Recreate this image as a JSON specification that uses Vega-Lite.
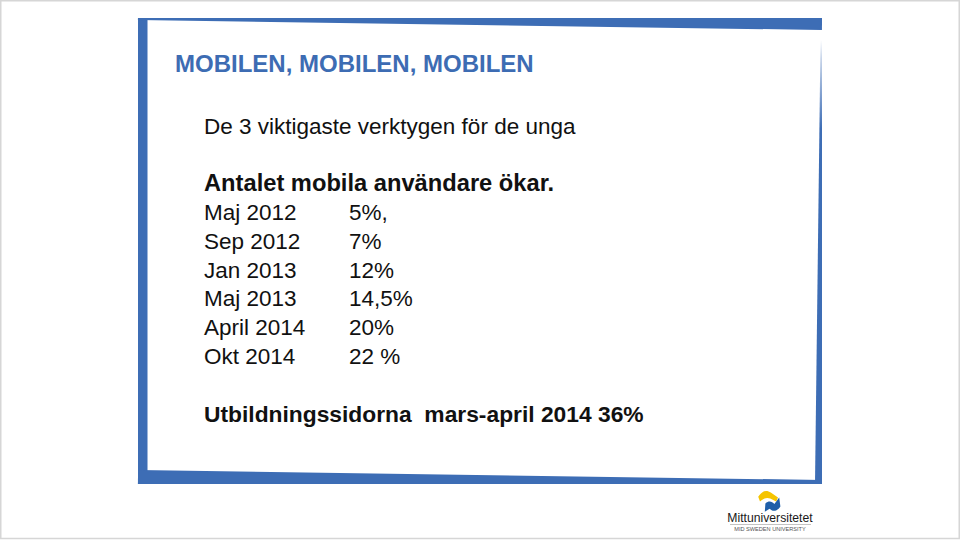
{
  "$schema": "https://vega.github.io/schema/vega-lite/v6.json",
  "width": 960,
  "height": 540,
  "padding": 0,
  "autosize": {"type": "fit", "contains": "padding"},
  "background": "#ffffff",
  "config": {"view": {"stroke": null}},
  "datasets": {
    "lines": [
      {"line": 0, "col": 0, "text": "De 3 viktigaste verktygen för de unga", "weight": "normal"},
      {"line": 2, "col": 0, "text": "Antalet mobila användare ökar.", "weight": "bold"},
      {"line": 3, "col": 0, "text": "Maj 2012", "weight": "normal"},
      {"line": 3, "col": 1, "text": "5%,", "weight": "normal"},
      {"line": 4, "col": 0, "text": "Sep 2012", "weight": "normal"},
      {"line": 4, "col": 1, "text": "7%", "weight": "normal"},
      {"line": 5, "col": 0, "text": "Jan 2013", "weight": "normal"},
      {"line": 5, "col": 1, "text": "12%", "weight": "normal"},
      {"line": 6, "col": 0, "text": "Maj 2013", "weight": "normal"},
      {"line": 6, "col": 1, "text": "14,5%", "weight": "normal"},
      {"line": 7, "col": 0, "text": "April 2014", "weight": "normal"},
      {"line": 7, "col": 1, "text": "20%", "weight": "normal"},
      {"line": 8, "col": 0, "text": "Okt 2014", "weight": "normal"},
      {"line": 8, "col": 1, "text": "22 %", "weight": "normal"},
      {"line": 10, "col": 0, "text": "Utbildningssidorna\u00a0 mars-april 2014 36%", "weight": "bold"}
    ],
    "title": [{"text": "MOBILEN, MOBILEN, MOBILEN"}],
    "logo": [{"name": "Mittuniversitetet", "sub": "MID SWEDEN UNIVERSITY"}]
  },
  "data": {"values": [{}]},
  "resolve": {"scale": {"x": "independent", "y": "independent"}},
  "layer": [
    {
      "mark": {"type": "rect", "fill": "#3d6db5"},
      "encoding": {
        "x": {"datum": 138, "type": "quantitative", "scale": {"domain": [0, 960], "nice": false, "zero": false}, "axis": null},
        "x2": {"datum": 147.5},
        "y": {"datum": 18, "type": "quantitative", "scale": {"domain": [0, 540], "nice": false, "zero": false, "reverse": true}, "axis": null},
        "y2": {"datum": 484}
      }
    },
    {
      "mark": {"type": "rule", "stroke": "#3d6db5", "strokeWidth": 12},
      "encoding": {
        "x": {"datum": 138, "type": "quantitative", "scale": {"domain": [0, 960], "nice": false, "zero": false}, "axis": null},
        "x2": {"datum": 822},
        "y": {"datum": 14, "type": "quantitative", "scale": {"domain": [0, 540], "nice": false, "zero": false, "reverse": true}, "axis": null},
        "y2": {"datum": 24}
      }
    },
    {
      "mark": {"type": "rule", "stroke": "#3d6db5", "strokeWidth": 14},
      "encoding": {
        "x": {"datum": 138, "type": "quantitative", "scale": {"domain": [0, 960], "nice": false, "zero": false}, "axis": null},
        "x2": {"datum": 822},
        "y": {"datum": 477, "type": "quantitative", "scale": {"domain": [0, 540], "nice": false, "zero": false, "reverse": true}, "axis": null},
        "y2": {"datum": 487}
      }
    },
    {
      "mark": {"type": "rule", "strokeWidth": 7, "stroke": {"gradient": "linear", "x1": 0, "y1": 0, "x2": 0, "y2": 1, "stops": [{"offset": 0, "color": "#ffffff"}, {"offset": 0.04, "color": "#c9d6ea"}, {"offset": 0.2, "color": "#3d6db5"}, {"offset": 1, "color": "#3d6db5"}]}},
      "encoding": {
        "x": {"datum": 824, "type": "quantitative", "scale": {"domain": [0, 960], "nice": false, "zero": false}, "axis": null},
        "x2": {"datum": 818.5},
        "y": {"datum": 40, "type": "quantitative", "scale": {"domain": [0, 540], "nice": false, "zero": false, "reverse": true}, "axis": null},
        "y2": {"datum": 484}
      }
    },
    {
      "mark": {"type": "rect", "fill": "#ffffff"},
      "encoding": {
        "x": {"datum": 130, "type": "quantitative", "scale": {"domain": [0, 960], "nice": false, "zero": false}, "axis": null},
        "x2": {"datum": 840},
        "y": {"datum": 0, "type": "quantitative", "scale": {"domain": [0, 540], "nice": false, "zero": false, "reverse": true}, "axis": null},
        "y2": {"datum": 18}
      }
    },
    {
      "mark": {"type": "rect", "fill": "#ffffff"},
      "encoding": {
        "x": {"datum": 130, "type": "quantitative", "scale": {"domain": [0, 960], "nice": false, "zero": false}, "axis": null},
        "x2": {"datum": 840},
        "y": {"datum": 484, "type": "quantitative", "scale": {"domain": [0, 540], "nice": false, "zero": false, "reverse": true}, "axis": null},
        "y2": {"datum": 497}
      }
    },
    {
      "mark": {"type": "rect", "fill": "#ffffff"},
      "encoding": {
        "x": {"datum": 822, "type": "quantitative", "scale": {"domain": [0, 960], "nice": false, "zero": false}, "axis": null},
        "x2": {"datum": 840},
        "y": {"datum": 0, "type": "quantitative", "scale": {"domain": [0, 540], "nice": false, "zero": false, "reverse": true}, "axis": null},
        "y2": {"datum": 497}
      }
    },
    {
      "data": {"name": "title"},
      "mark": {"type": "text", "align": "left", "baseline": "alphabetic", "font": "Liberation Sans", "fontWeight": "bold", "fontSize": 24, "color": "#3d6cb3"},
      "encoding": {
        "x": {"datum": 175, "type": "quantitative", "scale": {"domain": [0, 960], "nice": false, "zero": false}, "axis": null},
        "y": {"datum": 72, "type": "quantitative", "scale": {"domain": [0, 540], "nice": false, "zero": false, "reverse": true}, "axis": null},
        "text": {"field": "text", "type": "nominal"}
      }
    },
    {
      "data": {"name": "lines"},
      "transform": [{"filter": "datum.weight === 'normal'"}],
      "mark": {"type": "text", "align": "left", "baseline": "alphabetic", "font": "Liberation Sans", "fontSize": 22.5, "color": "#111111"},
      "encoding": {
        "x": {"field": "col", "type": "quantitative", "scale": {"domain": [0, 1], "range": [204, 349], "nice": false, "zero": false}, "axis": null},
        "y": {"field": "line", "type": "quantitative", "scale": {"domain": [0, 10], "range": [133.5, 421.5], "nice": false, "zero": false}, "axis": null},
        "text": {"field": "text", "type": "nominal"}
      }
    },
    {
      "data": {"name": "lines"},
      "transform": [{"filter": "datum.weight === 'bold' && datum.line < 5"}],
      "mark": {"type": "text", "align": "left", "baseline": "alphabetic", "font": "Liberation Sans", "fontWeight": "bold", "fontSize": 23.7, "color": "#111111"},
      "encoding": {
        "x": {"field": "col", "type": "quantitative", "scale": {"domain": [0, 1], "range": [204, 349], "nice": false, "zero": false}, "axis": null},
        "y": {"field": "line", "type": "quantitative", "scale": {"domain": [0, 10], "range": [133.5, 421.5], "nice": false, "zero": false}, "axis": null},
        "text": {"field": "text", "type": "nominal"}
      }
    },
    {
      "data": {"name": "lines"},
      "transform": [{"filter": "datum.weight === 'bold' && datum.line >= 5"}],
      "mark": {"type": "text", "align": "left", "baseline": "alphabetic", "font": "Liberation Sans", "fontWeight": "bold", "fontSize": 22.8, "color": "#111111"},
      "encoding": {
        "x": {"field": "col", "type": "quantitative", "scale": {"domain": [0, 1], "range": [204, 349], "nice": false, "zero": false}, "axis": null},
        "y": {"field": "line", "type": "quantitative", "scale": {"domain": [0, 10], "range": [133.5, 421.5], "nice": false, "zero": false}, "axis": null},
        "text": {"field": "text", "type": "nominal"}
      }
    },
    {
      "mark": {"type": "point", "filled": true, "fill": "#f5c400", "fillOpacity": 1, "strokeWidth": 0, "size": 576, "shape": "M-0.9,-0.35 C-0.6,-0.85 -0.2,-0.95 0.15,-0.7 L0.75,-0.3 L0.6,0.05 L0.1,-0.2 C-0.2,-0.35 -0.5,-0.2 -0.75,0.05 Z"},
      "encoding": {
        "x": {"datum": 769, "type": "quantitative", "scale": {"domain": [0, 960], "nice": false, "zero": false}, "axis": null},
        "y": {"datum": 501, "type": "quantitative", "scale": {"domain": [0, 540], "nice": false, "zero": false, "reverse": true}, "axis": null}
      }
    },
    {
      "mark": {"type": "point", "filled": true, "fill": "#1f5fa8", "fillOpacity": 1, "strokeWidth": 0, "size": 576, "shape": "M-0.35,0.9 L-0.3,0.2 C0,-0.05 0.25,0.05 0.45,0.25 L0.85,-0.3 L0.95,0.45 C0.65,0.9 0.3,0.9 0.05,0.65 Z"},
      "encoding": {
        "x": {"datum": 769, "type": "quantitative", "scale": {"domain": [0, 960], "nice": false, "zero": false}, "axis": null},
        "y": {"datum": 501, "type": "quantitative", "scale": {"domain": [0, 540], "nice": false, "zero": false, "reverse": true}, "axis": null}
      }
    },
    {
      "data": {"name": "logo"},
      "mark": {"type": "text", "align": "center", "baseline": "alphabetic", "font": "Liberation Sans", "fontSize": 12.2, "color": "#1a1a1a"},
      "encoding": {
        "x": {"datum": 770, "type": "quantitative", "scale": {"domain": [0, 960], "nice": false, "zero": false}, "axis": null},
        "y": {"datum": 522, "type": "quantitative", "scale": {"domain": [0, 540], "nice": false, "zero": false, "reverse": true}, "axis": null},
        "text": {"field": "name", "type": "nominal"}
      }
    },
    {
      "mark": {"type": "rule", "stroke": "#9a9a9a", "strokeWidth": 0.6},
      "encoding": {
        "x": {"datum": 730, "type": "quantitative", "scale": {"domain": [0, 960], "nice": false, "zero": false}, "axis": null},
        "x2": {"datum": 811},
        "y": {"datum": 524.5, "type": "quantitative", "scale": {"domain": [0, 540], "nice": false, "zero": false, "reverse": true}, "axis": null}
      }
    },
    {
      "data": {"name": "logo"},
      "mark": {"type": "text", "align": "center", "baseline": "alphabetic", "font": "Liberation Sans", "fontSize": 5.6, "color": "#555555"},
      "encoding": {
        "x": {"datum": 770, "type": "quantitative", "scale": {"domain": [0, 960], "nice": false, "zero": false}, "axis": null},
        "y": {"datum": 530.5, "type": "quantitative", "scale": {"domain": [0, 540], "nice": false, "zero": false, "reverse": true}, "axis": null},
        "text": {"field": "sub", "type": "nominal"}
      }
    },
    {
      "mark": {"type": "rect", "filled": false, "stroke": "#d6d6d6", "strokeWidth": 1.5},
      "encoding": {
        "x": {"datum": 0.75, "type": "quantitative", "scale": {"domain": [0, 960], "nice": false, "zero": false}, "axis": null},
        "x2": {"datum": 959.25},
        "y": {"datum": 0.75, "type": "quantitative", "scale": {"domain": [0, 540], "nice": false, "zero": false, "reverse": true}, "axis": null},
        "y2": {"datum": 538.5}
      }
    }
  ]
}
